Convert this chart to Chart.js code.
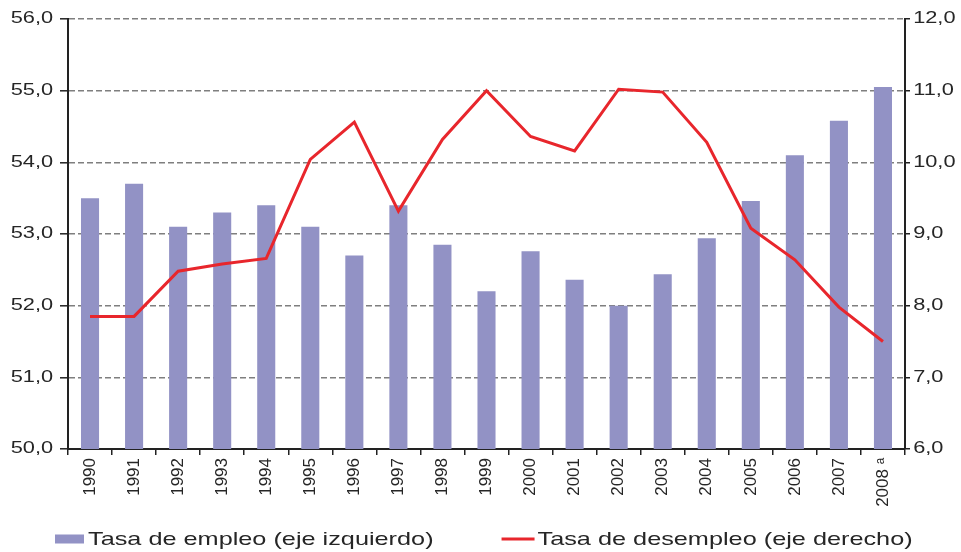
<!DOCTYPE html>
<html>
<head>
<meta charset="utf-8">
<script src="https://cdn.jsdelivr.net/npm/chart.js@4/dist/chart.umd.min.js"></script>
<style>
html,body{margin:0;padding:0;background:#fff;}
#wrap{width:961px;height:552px;}
</style>
</head>
<body>
<div id="wrap"><canvas id="c" width="961" height="552"></canvas></div>
<script>
const years = ["1990","1991","1992","1993","1994","1995","1996","1997","1998","1999","2000","2001","2002","2003","2004","2005","2006","2007","2008 ᵃ"];
const empleo = [53.5,53.7,53.1,53.3,53.4,53.1,52.7,53.4,52.85,52.2,52.76,52.36,52.0,52.44,52.94,53.46,54.1,54.58,55.05];
const desempleo = [7.85,7.85,8.48,8.58,8.66,10.04,10.56,9.32,10.32,11.0,10.36,10.16,11.02,10.98,10.28,9.08,8.64,7.98,7.5];
const leftTicks = [50,51,52,53,54,55,56];
const rightTicks = [6,7,8,9,10,11,12];

const FONT = '"Liberation Sans", Arial, sans-serif';
const SX = 1.36;  // horizontal stretch of the reference's axis text
const LSX = 1.33; // horizontal stretch of the legend text
const fmt = v => Number(v).toFixed(1).replace('.', ',');

// stretch y-axis labels horizontally like the reference
const stretchPlugin = {
  id: 'stretch',
  beforeDraw(chart) {
    [['y', s => s.right], ['y2', s => s.left]].forEach(([id, anchor]) => {
      const s = chart.scales[id];
      if (!s || s._stretched) return;
      const orig = s.drawLabels;
      s.drawLabels = function (area) {
        const ctx = this.ctx, ax = anchor(this);
        ctx.save();
        ctx.translate(ax, 0); ctx.scale(SX, 1); ctx.translate(-ax, 0);
        orig.call(this, area);
        ctx.restore();
      };
      s._stretched = true;
    });
  }
};

// bottom legend drawn from the datasets
const legendPlugin = {
  id: 'wideLegend',
  afterDraw(chart) {
    const ctx = chart.ctx;
    const items = [chart.data.datasets[1], chart.data.datasets[0]];
    const y = 539;
    let x = 55;
    ctx.save();
    ctx.font = '19px ' + FONT;
    ctx.textBaseline = 'middle';
    items.forEach((d) => {
      if (d.type === 'bar') {
        ctx.fillStyle = d.backgroundColor;
        ctx.fillRect(x, y - 4.5, 29, 9);
      } else {
        ctx.strokeStyle = d.borderColor; ctx.lineWidth = 3;
        ctx.beginPath(); ctx.moveTo(x, y); ctx.lineTo(x + 33, y); ctx.stroke();
      }
      const tx = x + (d.type === 'bar' ? 33 : 36);
      const w = ctx.measureText(d.label).width * LSX;
      ctx.save();
      ctx.translate(tx, y + 1); ctx.scale(LSX, 1);
      ctx.fillStyle = '#262626';
      ctx.fillText(d.label, 0, 0);
      ctx.restore();
      x = tx + w + 68;
    });
    ctx.restore();
  }
};

new Chart(document.getElementById('c'), {
  data: {
    labels: years,
    datasets: [
      {type:'line', label:'Tasa de desempleo (eje derecho)', data:desempleo, yAxisID:'y2',
       borderColor:'#E8262C', backgroundColor:'#E8262C', borderWidth:3, pointRadius:0, tension:0, order:0},
      {type:'bar', label:'Tasa de empleo (eje izquierdo)', data:empleo, yAxisID:'y',
       backgroundColor:'#9292C5', borderWidth:0, categoryPercentage:1, barPercentage:0.41, order:1}
    ]
  },
  plugins: [stretchPlugin, legendPlugin],
  options: {
    responsive:false, animation:false,
    layout:{padding:{left:0, right:0, top:19, bottom:43}},
    plugins:{ tooltip:{enabled:false}, legend:{display:false} },
    scales:{
      x:{
        offset:true,
        afterFit(s){ s.height = 60; },
        grid:{display:true, drawOnChartArea:false, offset:true, drawTicks:true, tickLength:6, color:'#222', lineWidth:1.5},
        border:{display:true, color:'#222', width:2},
        ticks:{color:'#262626', font:{family:FONT, size:17}, maxRotation:90, minRotation:90, autoSkip:false, padding:3}
      },
      y:{
        position:'left', min:50, max:56,
        afterFit(s){ s.width = 68; },
        afterBuildTicks(s){ s.ticks = leftTicks.map(v=>({value:v})); },
        grid:{color:'#7f7f7f', lineWidth:1.6, drawTicks:true, tickLength:8, tickColor:'#222', tickWidth:1.5},
        border:{display:true, color:'#222', width:2, dash:[6,3]},
        ticks:{color:'#262626', font:{family:FONT, size:16}, padding:3, callback:v=>fmt(v)}
      },
      y2:{
        position:'right', min:6, max:12,
        afterFit(s){ s.width = 56; },
        afterBuildTicks(s){ s.ticks = rightTicks.map(v=>({value:v})); },
        grid:{drawOnChartArea:false, drawTicks:true, tickLength:5, color:'#222', lineWidth:1.5},
        border:{display:true, color:'#222', width:2},
        ticks:{color:'#262626', font:{family:FONT, size:16}, padding:1, callback:v=>fmt(v)}
      }
    }
  }
});
</script>
</body>
</html>
